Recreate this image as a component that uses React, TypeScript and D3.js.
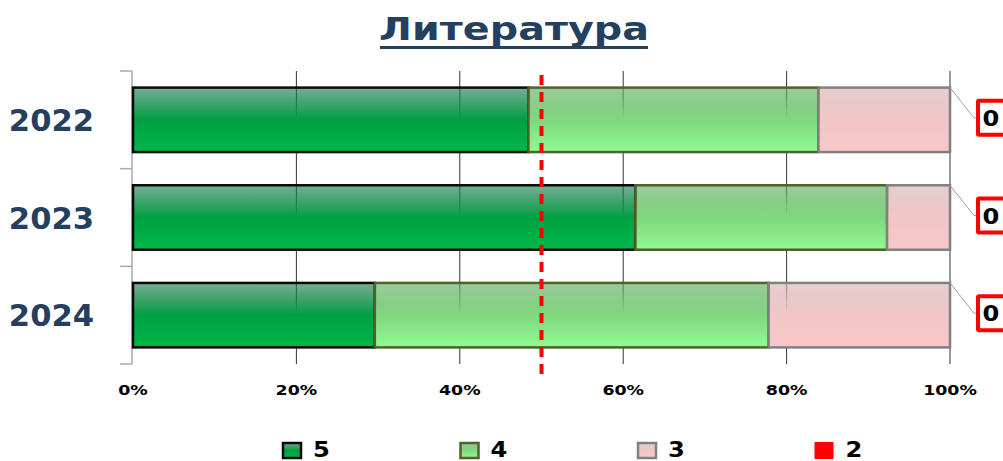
import React from 'react';
import * as d3 from 'd3';

const years = ['2022', '2023', '2024'];
const grade5 = [48.4, 61.5, 29.6];
const grade4 = [35.5, 30.8, 48.2];
const grade3 = [16.1, 7.7, 22.2];
const grade2 = [0, 0, 0];
const xTicks = [0, 20, 40, 60, 80, 100];
const threshold = 50;
const legendLabels = ['5', '4', '3', '2'];

const W = 1003;
const H = 461;
const TEXT_BLUE = '#243F60';
const FONT = '"DejaVu Sans", Verdana, sans-serif';

const series = [
  { key: '5', values: grade5, grad: 'g5', stroke: '#0a0a0a' },
  { key: '4', values: grade4, grad: 'g4', stroke: '#4f6228' },
  { key: '3', values: grade3, grad: 'g3', stroke: '#808080' },
];

const App = () => {
  const x = d3.scaleLinear().domain([0, 100]).range([133, 950]);
  const y = d3.scaleBand<string>()
    .domain(years)
    .range([71, 364])
    .paddingInner(0.34)
    .paddingOuter(0.17);
  const step = y.step();
  const top = y.range()[0];
  const bottom = y.range()[1];

  const stacked = years.map((yr, i) => {
    let acc = 0;
    return series.map(s => {
      const x0 = acc;
      acc += s.values[i];
      return { year: yr, key: s.key, x0, x1: acc, s };
    });
  });

  const stretch = (tx: number, ty: number, sx = 1.2) => `translate(${tx},${ty}) scale(${sx},1)`;

  return (
    <svg width={W} height={H} style={{ position: 'absolute', left: 0, top: 0, background: '#fff' }}>
      <defs>
        <linearGradient id="g5" x1="0" y1="0" x2="0" y2="1">
          <stop offset="0" stopColor="#1a7a50" stopOpacity={0.6} />
          <stop offset="0.5" stopColor="#00a040" stopOpacity={1} />
          <stop offset="1" stopColor="#00b84a" stopOpacity={1} />
        </linearGradient>
        <linearGradient id="g4" x1="0" y1="0" x2="0" y2="1">
          <stop offset="0" stopColor="#5aaa5a" stopOpacity={0.6} />
          <stop offset="0.5" stopColor="#7fd87f" stopOpacity={1} />
          <stop offset="1" stopColor="#92fa92" stopOpacity={1} />
        </linearGradient>
        <linearGradient id="g3" x1="0" y1="0" x2="0" y2="1">
          <stop offset="0" stopColor="#d8b0b0" stopOpacity={0.6} />
          <stop offset="0.5" stopColor="#f2c6c6" stopOpacity={1} />
          <stop offset="1" stopColor="#f8c8c8" stopOpacity={1} />
        </linearGradient>
      </defs>

      {/* title */}
      <text
        transform={stretch(514, 40, 1.24)}
        textAnchor="middle"
        fontFamily={FONT}
        fontWeight="bold"
        fontSize={32}
        fill={TEXT_BLUE}
      >
        Литература
      </text>
      <line x1={380} x2={648} y1={47.5} y2={47.5} stroke={TEXT_BLUE} strokeWidth={3} />

      {/* grid */}
      {xTicks.filter(t => t > 0).map(t => (
        <line key={t} x1={x(t)} x2={x(t)} y1={top} y2={bottom} stroke="#333" strokeWidth={1} />
      ))}

      {/* left axis */}
      <line x1={x(0) - 1} x2={x(0) - 1} y1={top} y2={bottom} stroke="#aaa" strokeWidth={1.5} />
      {d3.range(years.length + 1).map(i => (
        <line key={i} x1={120} x2={x(0) - 1} y1={top + i * step} y2={top + i * step} stroke="#aaa" strokeWidth={1.5} />
      ))}

      {/* bars */}
      {stacked.map(row => row.map(seg => (
        <rect
          key={seg.year + seg.key}
          x={x(seg.x0)}
          y={y(seg.year)}
          width={x(seg.x1) - x(seg.x0)}
          height={y.bandwidth()}
          fill={`url(#${seg.s.grad})`}
          stroke={seg.s.stroke}
          strokeWidth={2.5}
        />
      )))}

      {/* year labels */}
      {years.map(yr => (
        <text
          key={yr}
          transform={stretch(94, (y(yr) as number) + y.bandwidth() / 2 + 11, 1.02)}
          textAnchor="end"
          fontFamily={FONT}
          fontWeight="bold"
          fontSize={30}
          fill={TEXT_BLUE}
        >
          {yr}
        </text>
      ))}

      {/* threshold line */}
      <line
        x1={x(threshold)}
        x2={x(threshold)}
        y1={75}
        y2={380}
        stroke="#ff0000"
        strokeWidth={4}
        strokeDasharray="10,7"
      />

      {/* x tick labels */}
      {xTicks.map(t => (
        <text
          key={t}
          transform={stretch(x(t), 395)}
          textAnchor="middle"
          fontFamily={FONT}
          fontWeight="bold"
          fontSize={14.5}
          fill="#000"
        >
          {t}%
        </text>
      ))}

      {/* data labels for grade 2 */}
      {years.map((yr, i) => {
        const by = y(yr) as number;
        const cy = by + y.bandwidth() / 2 - 2;
        return (
          <g key={yr}>
            <polyline
              points={`${x(100)},${by} ${x(100) + 24},${cy} ${x(100) + 27},${cy}`}
              fill="none"
              stroke="#a0a0a0"
              strokeWidth={1}
            />
            <rect x={978} y={cy - 17} width={40} height={34} fill="#fff" stroke="#ff0000" strokeWidth={4} rx={1} />
            <text
              transform={stretch(991, cy + 8, 1.15)}
              textAnchor="middle"
              fontFamily={FONT}
              fontWeight="bold"
              fontSize={21}
              fill="#000"
            >
              {grade2[i]}
            </text>
          </g>
        );
      })}

      {/* legend */}
      {legendLabels.map((lab, i) => {
        const lx = 283 + i * 177.5;
        const s = series[i];
        return (
          <g key={lab}>
            {s ? (
              <rect x={lx} y={443} width={18} height={15} fill={`url(#${s.grad})`} stroke={s.stroke} strokeWidth={2.5} />
            ) : (
              <rect x={lx - 1} y={442} width={19} height={17} fill="#ff0000" />
            )}
            <text
              transform={stretch(lx + 30, 457, 1.1)}
              fontFamily={FONT}
              fontWeight="bold"
              fontSize={22}
              fill="#000"
            >
              {lab}
            </text>
          </g>
        );
      })}
    </svg>
  );
};

export default App;
